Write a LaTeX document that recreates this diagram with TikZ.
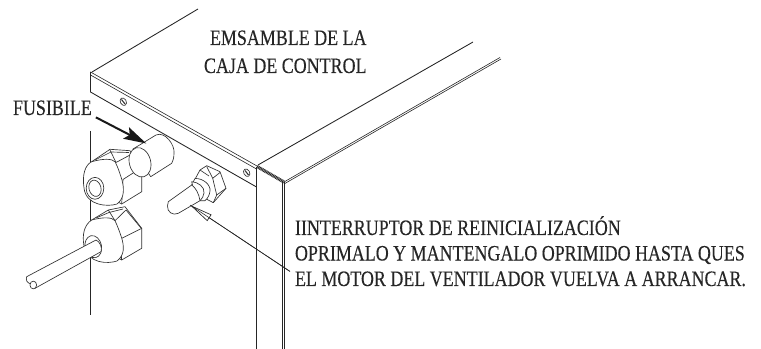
\documentclass[tikz,border=0pt]{standalone}
\usepackage{fontspec}
\setmainfont[FakeStretch=0.816,FakeBold=0.25]{Liberation Serif}
\usepackage{xcolor}
\usepackage{tikz}
\usetikzlibrary{positioning,arrows.meta}

\tikzset{
    note/.style={inner sep=0pt, outer sep=0pt, anchor=base west, text=black!85, font=\fontsize{16.5}{18}\selectfont},
    edge/.style={line width=0.65pt, black!85},
    thin edge/.style={line width=0.45pt, black!85},
    part/.style={line width=0.5pt, black!80, fill=white, line join=round},
    partline/.style={line width=0.5pt, black!80, line join=round}
}

\begin{document}
\begin{tikzpicture}[x=0.75pt, y=-0.75pt]
    \useasboundingbox (0,0) rectangle (761,349);

    \node [note] (title) at (210,45) {EMSAMBLE DE LA};
    \node [note] (subtitle) at (204,73) {CAJA DE CONTROL};
    \node [note] (fusible) at (13,115) {FUSIBILE};
    \node [note] (resetone) at (295,235) {IINTERRUPTOR DE REINICIALIZACIÓN};
    \node [note] (resettwo) at (295,260.5) {OPRIMALO Y MANTENGALO OPRIMIDO HASTA QUES};
    \node [note, inner xsep=3.75pt] (resetthree) at (290,286) {EL MOTOR DEL VENTILADOR VUELVA A ARRANCAR.};

    % cabinet
    \draw [edge] (92,72) -- (198,9);
    \draw [edge] (258,165) -- (473,42);
    \draw [thin edge] (284,182) -- (500,57.5);
    \draw [thin edge] (284,184) -- (501,59);
    \draw [thin edge] (90.5,72) -- (257,166);
    \draw [thin edge] (90.5,75) -- (256.5,169);
    \draw [edge] (90.5,72) -- (90.5,92) -- (256.5,187);
    \draw [edge, line width=1pt] (90.7,131) -- (90.7,315);
    \draw [edge, line width=0.8pt] (256.5,167) -- (256.5,349);
    \draw [thin edge] (282,182) -- (282,349);
    \draw [thin edge] (284.5,182) -- (284.5,349);
    \draw [black!85, line width=2.4pt, dash pattern=on 0.7pt off 0.45pt] (257,166.5) -- (284,182);

    % screws
    \draw [partline, rotate around={-60:(123.3,101.7)}] (123.3,101.7) ellipse [x radius=3pt, y radius=2.2pt];
    \draw [partline, line width=0.8pt] (121.5,99.5) -- (125,104);
    \draw [partline, rotate around={-60:(246.7,172.7)}] (246.7,172.7) ellipse [x radius=3pt, y radius=2.2pt];
    \draw [partline, line width=0.8pt] (245,170.5) -- (248.5,175);

    % upper nut
    \draw [part] (91.7,161.7) -- (110,149.3) -- (130,150.7) -- (141.7,176.7) -- (141.7,191.7) -- (121.7,204) -- (105,195) -- cycle;
    \draw [partline] (110,150) -- (116,162.5) -- (130,155);
    \draw [partline] (95,160) -- (111,152) -- (129,152.5);
    \draw [partline] (123,179.5) -- (137,170.5);
    \draw [partline] (123,179.5) -- (121.7,204);
    \draw [part] (91.7,161.7) .. controls (103,158.5) and (112,158.5) .. (115,161.7) .. controls (118,167) and (120,174) .. (122,180) .. controls (124,188) and (125,198) .. (117,204) .. controls (108,207) and (86,206) .. (84,188) .. controls (82,175) and (85,165) .. (91.7,161.7) -- cycle;
    \draw [part] (95,188.3) ellipse [x radius=6.6pt, y radius=8.2pt];
    \draw [part, rotate around={15:(95,188.3)}] (95,188.3) ellipse [x radius=4.5pt, y radius=6.2pt];

    % fuse
    \draw [part] (133,149) -- (156,135) .. controls (165,131) and (175,145) .. (174,153) .. controls (174,158) and (173,161) .. (171.7,163.3) -- (150.7,176.7) -- cycle;
    \draw [part, rotate around={15:(140,162.3)}] (140,162.3) ellipse [x radius=8pt, y radius=11.25pt];

    % lower nut
    \draw [part] (91.7,220) -- (108.3,210) -- (125,206.7) -- (141.7,228.3) -- (141.7,248.3) -- (121.7,260) -- (105,250) -- cycle;
    \draw [partline] (96,218) -- (109,212.5) -- (123,209);
    \draw [partline] (108.3,210) -- (115,220.7) -- (126,210);
    \draw [partline] (126,210) -- (141,228);
    \draw [partline] (121.7,238.3) -- (141.7,228.3);
    \draw [partline] (121.7,238.3) -- (121.7,260);
    \draw [part] (91.7,220) .. controls (103,217) and (112,217) .. (115,220.7) .. controls (118,227) and (120,233) .. (121.7,238) .. controls (124,246) and (125,255) .. (117,261) .. controls (108,264) and (88,264) .. (84,246) .. controls (82,235) and (84,225) .. (91.7,220) -- cycle;
    \draw [part, rotate around={12:(93.3,246.7)}] (93.3,246.7) ellipse [x radius=6.2pt, y radius=8.4pt];

    % cable
    \draw [part] (96,240) -- (26.7,276.7) .. controls (25.5,280) and (27,283) .. (31,284) -- (35,288.3) -- (101,251.7) .. controls (102.5,248) and (100,241.5) .. (96,240) -- cycle;
    \draw [part] (33.3,285) ellipse [x radius=2.5pt, y radius=2.9pt];

    % switch
    \draw [part] (195,179.3) -- (200,170) -- (206.7,165.7) -- (220,171.7) -- (226,188.3) -- (213.3,202.7) -- (205,198.3) -- cycle;
    \draw [partline] (206.7,166.5) -- (212.7,178.3) -- (220,172.5);
    \draw [partline] (200,170) -- (209,176);
    \draw [partline] (212.7,178.3) -- (216.7,195) -- (226,188.3);
    \draw [partline] (216.7,195) -- (213.3,202.7);
    \draw [part] (195,178.5) .. controls (203,178) and (211,185) .. (210,191) .. controls (209.5,195) and (208,198) .. (205,200.7) -- (200,200.7) -- (191.7,185) -- cycle;
    \draw [part] (191.7,181.7) .. controls (198,182) and (205,187) .. (204,193) .. controls (203.7,196) and (202,199) .. (200,200.7) -- (196,199) -- cycle;
    \draw [part] (168.3,201.7) -- (191.7,185) .. controls (196,188) and (199,194) .. (200,200.7) -- (178.3,213.3) .. controls (173,216) and (167,212) .. (167.5,206) .. controls (167.5,204) and (167.8,203) .. (168.3,201.7) -- cycle;

    % arrows
    \coordinate (fusetip) at (146.3,143.5);
    \coordinate (switchtip) at (190,205);
    \draw [-{Stealth[length=17pt, width=9.5pt, inset=3pt]}, line width=1.5pt, black!90, shorten <=3.5pt] (fusible.south east) -- (fusetip);
    \draw [-{Triangle[open, length=17.5pt, width=5.7pt]}, line width=0.5pt, black!85] (resetthree.north west) -- (switchtip);
    \draw [line width=0.4pt, black!85] (resetthree.north west) -- (switchtip);
\end{tikzpicture}
\end{document}
